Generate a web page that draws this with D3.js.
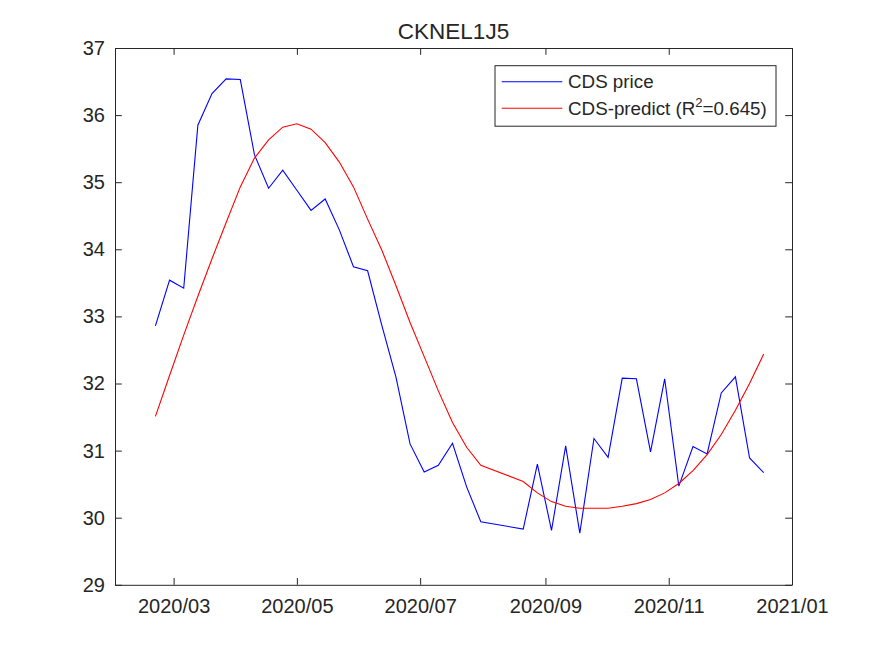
<!DOCTYPE html>
<html>
<head>
<meta charset="utf-8">
<script src="https://cdn.jsdelivr.net/npm/d3@7"></script>
<style>
  body { margin: 0; background: #fff; }
  text { font-family: "Liberation Sans", Arial, Helvetica, sans-serif; fill: #262626; }
</style>
</head>
<body>
<div class="line-chart"></div>
<script>
// weekly observations (Aug 7 / Aug 14 missing in the source)
const dates = ["2020-02-21","2020-02-28","2020-03-06","2020-03-13","2020-03-20","2020-03-27",
  "2020-04-03","2020-04-10","2020-04-17","2020-04-24","2020-05-01","2020-05-08","2020-05-15",
  "2020-05-22","2020-05-29","2020-06-05","2020-06-12","2020-06-19","2020-06-26","2020-07-03",
  "2020-07-10","2020-07-17","2020-07-24","2020-07-31","2020-08-21","2020-08-28","2020-09-04",
  "2020-09-11","2020-09-18","2020-09-25","2020-10-02","2020-10-09","2020-10-16","2020-10-23",
  "2020-10-30","2020-11-06","2020-11-13","2020-11-20","2020-11-27","2020-12-04","2020-12-11",
  "2020-12-18"];

const cdsPrice = [32.86,33.54,33.42,35.85,36.32,36.54,36.53,35.41,34.91,35.18,34.88,34.58,34.75,
  34.29,33.74,33.68,32.87,32.10,31.10,30.68,30.78,31.11,30.46,29.94,29.83,30.80,29.81,
  31.07,29.77,31.18,30.90,32.08,32.07,30.98,32.07,30.47,31.06,30.95,31.86,32.10,30.89,30.67];

const cdsPredict = [31.51,32.12,32.72,33.30,33.86,34.40,34.93,35.36,35.63,35.82,35.87,35.79,35.59,
  35.30,34.93,34.45,33.99,33.46,32.91,32.40,31.89,31.42,31.05,30.78,30.54,30.37,30.24,
  30.17,30.14,30.14,30.14,30.17,30.21,30.27,30.37,30.51,30.70,30.94,31.24,31.60,32.00,32.44];

const yTicks = [29,30,31,32,33,34,35,36,37];
const titleText = "CKNEL1J5";
const seriesNames = ["CDS price", "CDS-predict"];
const r2 = "0.645";

const margin = {top: 48, right: 83, bottom: 71.2, left: 115};
const width = 875 - margin.left - margin.right;
const height = 656 - margin.top - margin.bottom;
const axisColor = "#262626";
const tickLen = 6.8;

const svg = d3.select(".line-chart")
    .append("svg")
    .attr("width", 875)
    .attr("height", 656)
    .append("g")
    .attr("transform", "translate(" + margin.left + "," + margin.top + ")");

const parse = d3.utcParse("%Y-%m-%d");
const data = dates.map((d, i) => ({date: parse(d), price: cdsPrice[i], pred: cdsPredict[i]}));

let xScale = d3.scaleUtc()
    .domain([Date.UTC(2020, 1, 1), Date.UTC(2021, 0, 1)])
    .range([0, width]);

let yScale = d3.scaleLinear()
    .domain([29, 37])
    .range([height, 0]);

const xTickVals = xScale.ticks(d3.utcMonth.every(2));

// axes (inward ticks, box style)
let xAxis = d3.axisBottom(xScale).tickValues(xTickVals)
    .tickFormat(d3.utcFormat("%Y/%m")).tickSizeInner(-tickLen).tickSizeOuter(0).tickPadding(14);
let xAxisTop = d3.axisTop(xScale).tickValues(xTickVals)
    .tickFormat("").tickSizeInner(-tickLen).tickSizeOuter(0);
let yAxis = d3.axisLeft(yScale).tickValues(yTicks)
    .tickSizeInner(-tickLen).tickSizeOuter(0).tickPadding(10);
let yAxisRight = d3.axisRight(yScale).tickValues(yTicks)
    .tickFormat("").tickSizeInner(-tickLen).tickSizeOuter(0);

svg.append("g").attr("class", "axis x-axis")
    .attr("transform", `translate(0, ${height})`).call(xAxis);
svg.append("g").attr("class", "axis x-axis-top").call(xAxisTop);
svg.append("g").attr("class", "axis y-axis").call(yAxis);
svg.append("g").attr("class", "axis y-axis-right")
    .attr("transform", `translate(${width}, 0)`).call(yAxisRight);

svg.selectAll(".axis path").attr("stroke", axisColor).attr("stroke-width", 1);
svg.selectAll(".axis line").attr("stroke", axisColor).attr("stroke-width", 1);
svg.selectAll(".axis text")
    .attr("fill", axisColor)
    .style("font-size", "20px")
    .style("font-family", "'Liberation Sans', Arial, sans-serif");

// lines
const priceLine = d3.line().x(d => xScale(d.date)).y(d => yScale(d.price));
const predLine = d3.line().x(d => xScale(d.date)).y(d => yScale(d.pred));

svg.append("path").datum(data)
    .attr("fill", "none").attr("stroke", "#0000ff").attr("stroke-width", 1.1)
    .attr("d", priceLine);
svg.append("path").datum(data)
    .attr("fill", "none").attr("stroke", "#ff0000").attr("stroke-width", 1.1)
    .attr("d", predLine);

// title
svg.append("text")
    .attr("x", width / 2)
    .attr("y", -9)
    .attr("text-anchor", "middle")
    .style("font-size", "22.5px")
    .text(titleText);

// legend
const legend = svg.append("g").attr("transform", `translate(${495 - margin.left}, ${65.7 - margin.top})`);
legend.append("rect")
    .attr("width", 281).attr("height", 60.5)
    .attr("fill", "#fff").attr("stroke", axisColor).attr("stroke-width", 1);

const rows = [{name: seriesNames[0], color: "#0000ff", y: 16}, {name: seriesNames[1], color: "#ff0000", y: 42.6}];
rows.forEach((r, i) => {
    legend.append("line")
        .attr("x1", 6.7).attr("x2", 67.3)
        .attr("y1", r.y).attr("y2", r.y)
        .attr("stroke", r.color).attr("stroke-width", 1.1);
    const t = legend.append("text")
        .attr("x", 73)
        .attr("y", r.y + 6.8)
        .style("font-size", "18.8px");
    if (i == 0) {
        t.text(r.name);
    } else {
        t.append("tspan").text(r.name + " (R");
        t.append("tspan").attr("dy", -8.5).style("font-size", "13px").text("2");
        t.append("tspan").attr("dy", 8.5).text("=" + r2 + ")");
    }
});
</script>
</body>
</html>
